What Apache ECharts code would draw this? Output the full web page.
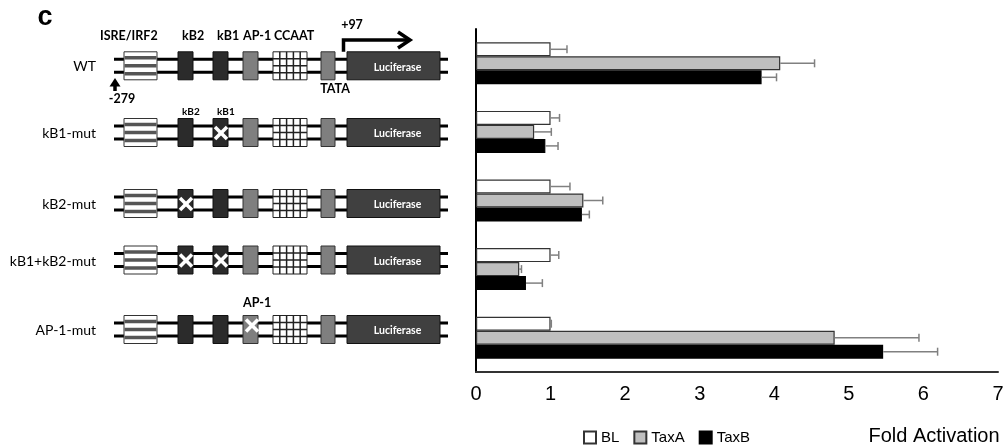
<!DOCTYPE html>
<html>
<head>
<meta charset="utf-8">
<script src="https://cdn.jsdelivr.net/npm/echarts@6/dist/echarts.min.js"></script>
<style>html,body{margin:0;padding:0;background:#fff}#c{width:1007px;height:446px}</style>
</head>
<body>
<div id="c"></div>
<script>
// ---- data ----
const categories = ['WT', 'kB1-mut', 'kB2-mut', 'kB1+kB2-mut', 'AP-1-mut'];
const seriesNames = ['BL', 'TaxA', 'TaxB'];
const blValues   = [1.00, 1.00, 1.00, 1.00, 1.00];
const blErr      = [0.22, 0.12, 0.26, 0.11, 0.01];
const taxAValues = [4.08, 0.78, 1.44, 0.58, 4.81];
const taxAErr    = [0.46, 0.23, 0.26, 0.03, 1.13];
const taxBValues = [3.83, 0.93, 1.42, 0.67, 5.46];
const taxBErr    = [0.20, 0.17, 0.10, 0.22, 0.73];
const xTickLabels = ['0', '1', '2', '3', '4', '5', '6', '7'];
const xAxisTitle = 'Fold Activation';
const panelLetter = 'c';
// promoter elements and which ones are mutated in each construct
const elementNames = ['ISRE/IRF2', 'kB2', 'kB1', 'AP-1', 'CCAAT', 'TATA', 'Luciferase'];
const mutated = [[], ['kB1'], ['kB2'], ['kB1', 'kB2'], ['AP-1']];
const coordLabels = ['-279', '+97'];

// ---- layout (schematic positions, pixels) ----
const rowY = [65.8, 132.5, 203.5, 260, 329.5];
const elemX = {
  'ISRE/IRF2': [124, 157], 'kB2': [178, 193], 'kB1': [213, 228], 'AP-1': [243, 258],
  'CCAAT': [273, 307], 'TATA': [321, 335], 'Luciferase': [347, 440]
};
const dnaX = [114, 448];
const LAB = 'Lato, "Open Sans", sans-serif';
const ARI = '"Liberation Sans", Arial, sans-serif';

const g = [];
function txt(t, x, y, font, align, fill, z) {
  g.push({type: 'text', z: z || 10, silent: true, style: {text: t, x: x, y: y, font: font,
    fill: fill || '#000', align: align || 'center', textAlign: align || 'center',
    verticalAlign: 'middle', textVerticalAlign: 'middle'}});
}
function rect(x, y, w, h, fill, stroke, lw, z) {
  g.push({type: 'rect', z: z, silent: true, shape: {x: x, y: y, width: w, height: h},
    style: {fill: fill, stroke: stroke, lineWidth: lw}});
}
function line(x1, y1, x2, y2, stroke, lw, z) {
  g.push({type: 'line', z: z, silent: true, shape: {x1: x1, y1: y1, x2: x2, y2: y2},
    style: {stroke: stroke, lineWidth: lw}});
}

txt(panelLetter, 45, 18, 'bold 27px ' + ARI, 'center', '#000');

categories.forEach(function (name, i) {
  const c = rowY[i];
  txt(name, 96, c + 1, '14px ' + LAB, 'right');
  line(dnaX[0], c - 6.5, dnaX[1], c - 6.5, '#000', 3, 1);
  line(dnaX[0], c + 6.5, dnaX[1], c + 6.5, '#000', 3, 1);
  const top = c - 14, h = 28;
  elementNames.forEach(function (el) {
    const x0 = elemX[el][0], x1 = elemX[el][1], w = x1 - x0;
    if (el === 'ISRE/IRF2') {
      rect(x0, top, w, h, '#fff', '#333', 1, 2);
      [-8, 0, 8].forEach(function (o) { rect(x0 + 0.5, c + o - 1.8, w - 1, 3.6, '#555', null, 0, 3); });
    } else if (el === 'kB2' || el === 'kB1') {
      rect(x0, top, w, h, '#2b2b2b', '#111', 1, 2);
    } else if (el === 'AP-1' || el === 'TATA') {
      rect(x0, top, w, h, '#7f7f7f', '#333', 1, 2);
    } else if (el === 'CCAAT') {
      rect(x0, top, w, h, '#fff', '#222', 1, 2);
      for (let k = 1; k < 5; k++) line(x0 + w * k / 5, top, x0 + w * k / 5, top + h, '#222', 1.5, 3);
      for (let k = 1; k < 4; k++) line(x0, top + h * k / 4, x1, top + h * k / 4, '#222', 1.5, 3);
    } else if (el === 'Luciferase') {
      rect(x0, top, w, h, '#404040', '#111', 1, 2);
      txt('Luciferase', (x0 + x1) / 2 + 4, c + 1.5, 'bold 10.5px ' + LAB, 'center', '#fff', 4);
    }
    if (mutated[i].indexOf(el) >= 0) {
      const cx = el === 'AP-1' ? x0 + 9 : (x0 + x1) / 2 + 0.5;
      const cy = el === 'AP-1' ? c - 4 : c + 0.5;
      const s = 6;
      line(cx - s, cy - s, cx + s, cy + s, '#fff', 3.5, 5);
      line(cx - s, cy + s, cx + s, cy - s, '#fff', 3.5, 5);
    }
  });
});

// labels above constructs
const c0 = rowY[0];
txt('ISRE/IRF2', 100, 36, 'bold 12.5px ' + LAB, 'left');
txt('kB2', 182, 36, 'bold 12.5px ' + LAB, 'left');
txt('kB1', 217, 36, 'bold 12.5px ' + LAB, 'left');
txt('AP-1', 243, 36, 'bold 12.5px ' + LAB, 'left');
txt('CCAAT', 274, 36, 'bold 12.5px ' + LAB, 'left');
txt('TATA', 335, 89, 'bold 12.5px ' + LAB, 'center');
txt(coordLabels[1], 352, 25, 'bold 12.5px ' + LAB, 'center');
txt(coordLabels[0], 122, 99, 'bold 12.5px ' + LAB, 'center');
txt('kB2', 182, 111.5, 'bold 10px ' + LAB, 'left');
txt('kB1', 217, 111.5, 'bold 10px ' + LAB, 'left');
txt('AP-1', 243, 303, 'bold 12.5px ' + LAB, 'left');
// transcription start arrow
g.push({type: 'polyline', z: 6, silent: true, shape: {points: [[343.5, c0 - 14], [343.5, 40], [408, 40]]},
  style: {stroke: '#000', lineWidth: 3.5, fill: null}});
g.push({type: 'polyline', z: 6, silent: true, shape: {points: [[398, 32], [410, 40], [398, 48]]},
  style: {stroke: '#000', lineWidth: 3.5, fill: null}});
// -279 marker
g.push({type: 'polygon', z: 6, silent: true, shape: {points: [[115, 78], [109.5, 86.5], [120.5, 86.5]]},
  style: {fill: '#000'}});
line(115, 86, 115, 91, '#000', 3.5, 6);

// axis title
txt(xAxisTitle, 934, 436, '20px ' + ARI, 'center');

// ---- chart ----
const BW = 14;
const colors = {BL: '#ffffff', TaxA: '#bfbfbf', TaxB: '#000000'};
const borders = {BL: '#333', TaxA: '#333', TaxB: '#000'};
const values = [blValues, taxAValues, taxBValues];
const errs = [blErr, taxAErr, taxBErr];

const barSeries = seriesNames.map(function (n, s) {
  return {
    name: n, type: 'bar', barWidth: BW, barGap: '0%',
    data: values[s],
    itemStyle: {color: colors[n], borderColor: borders[n], borderWidth: 1.2},
    emphasis: {disabled: true}, z: 2
  };
});
const errSeries = seriesNames.map(function (n, s) {
  return {
    type: 'custom', name: n + '-err', z: 5, silent: true,
    data: values[s].map(function (v, i) { return [v, i, errs[s][i]]; }),
    renderItem: function (params, api) {
      const v = api.value(0), ci = api.value(1), e = api.value(2);
      const p0 = api.coord([v, ci]);
      const p1 = api.coord([v + e, ci]);
      const y = p0[1] + (s - 1) * BW;
      return {type: 'group', children: [
        {type: 'line', shape: {x1: p0[0], y1: y, x2: p1[0], y2: y}, style: {stroke: '#808080', lineWidth: 1.5}},
        {type: 'line', shape: {x1: p1[0], y1: y - 4, x2: p1[0], y2: y + 4}, style: {stroke: '#808080', lineWidth: 1.5}}
      ]};
    }
  };
});

const chart = echarts.init(document.getElementById('c'), null, {renderer: 'canvas'});
chart.setOption({
  animation: false,
  backgroundColor: '#fff',
  grid: {left: 476, top: 29, width: 522, height: 343, containLabel: false},
  xAxis: {
    type: 'value', min: 0, max: 7, interval: 1,
    axisLine: {show: true, lineStyle: {color: '#333', width: 2}},
    axisTick: {show: false}, splitLine: {show: false},
    axisLabel: {margin: 12, fontSize: 20, color: '#000', fontFamily: ARI,
      formatter: function (v) { return xTickLabels[Math.round(v)]; }}
  },
  yAxis: {
    type: 'category', inverse: true, data: categories,
    axisLine: {show: true, lineStyle: {color: '#000', width: 2}},
    axisTick: {show: false}, axisLabel: {show: false}, splitLine: {show: false}
  },
  legend: {
    data: seriesNames, left: 578, top: 425, icon: 'rect', itemWidth: 12, itemHeight: 12, itemGap: 14,
    textStyle: {fontSize: 15, color: '#000', fontFamily: ARI}, selectedMode: false
  },
  graphic: {elements: g},
  series: barSeries.concat(errSeries)
});
</script>
</body>
</html>
